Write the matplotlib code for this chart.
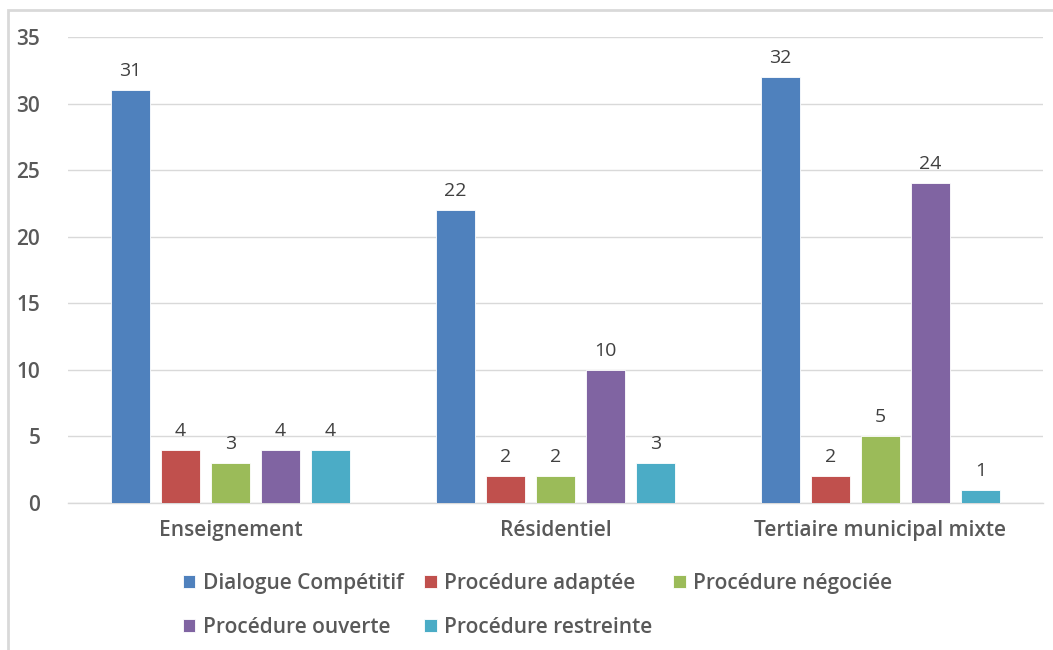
import matplotlib
matplotlib.use("Agg")
import matplotlib.pyplot as plt
from matplotlib.patches import Rectangle
import numpy as np

categories = ["Enseignement", "Résidentiel", "Tertiaire municipal mixte"]
series_names = [
    "Dialogue Compétitif",
    "Procédure adaptée",
    "Procédure négociée",
    "Procédure ouverte",
    "Procédure restreinte",
]
dialogue = [31, 22, 32]
adaptee = [4, 2, 2]
negociee = [3, 2, 5]
ouverte = [4, 10, 24]
restreinte = [4, 3, 1]
yticks = [0, 5, 10, 15, 20, 25, 30, 35]

COLORS = ["#4F81BD", "#C0504D", "#9BBB59", "#8064A2", "#4BACC6"]
TXT = "#595959"
GRID = "#D9D9D9"

plt.rcParams["font.family"] = ["Open Sans", "DejaVu Sans"]

fig = plt.figure(figsize=(10.53, 6.5), dpi=100)
ax = fig.add_axes([68 / 1053, 147 / 650, 975 / 1053, 466 / 650])

values = [dialogue, adaptee, negociee, ouverte, restreinte]
x = np.arange(len(categories))
slot = 0.154
width = 0.12
handles = []
for i, (name, vals) in enumerate(zip(series_names, values)):
    xs = x + (i - 2) * slot
    bars = ax.bar(xs, vals, width=width, color=COLORS[i], label=name,
                  edgecolor="white", linewidth=0.6, zorder=3)
    handles.append(bars)
    for b, v in zip(bars, vals):
        ax.text(b.get_x() + b.get_width() / 2, v + 0.75, str(v),
                ha="center", va="bottom", fontsize=14, color="#404040")

ax.set_xlim(-0.5, 2.5)
ax.set_ylim(0, 35)
ax.set_yticks(yticks)
ax.set_xticks(x)
ax.set_xticklabels(categories)
ax.yaxis.grid(True, color=GRID, linewidth=1, zorder=0)
for s in ["top", "right", "left"]:
    ax.spines[s].set_visible(False)
ax.spines["bottom"].set_color(GRID)
ax.spines["bottom"].set_linewidth(1)
ax.tick_params(axis="both", length=0, labelcolor=TXT, labelsize=15)
ax.tick_params(axis="y", pad=20)
ax.tick_params(axis="x", pad=12)
for lab in ax.get_xticklabels() + ax.get_yticklabels():
    lab.set_fontweight("semibold")

# legend fills column-wise, so reorder to read row-wise like the original
order = [0, 3, 1, 4, 2]
fig.legend([handles[k] for k in order], [series_names[k] for k in order],
           loc="center", bbox_to_anchor=(0.5105, 0.069), ncol=3,
           frameon=False, handlelength=0.6, handleheight=0.6,
           handletextpad=0.35, columnspacing=1.0, labelspacing=1.1,
           labelcolor=TXT, prop={"weight": "semibold", "size": 15})

# outer chart border (only left/top visible in the crop)
fig.patches.append(Rectangle((8 / 1053, -0.1), 1.2, 0.1 + 640 / 650,
                             transform=fig.transFigure, fill=False,
                             edgecolor=GRID, linewidth=2))

fig.savefig("out.png", dpi=100)
